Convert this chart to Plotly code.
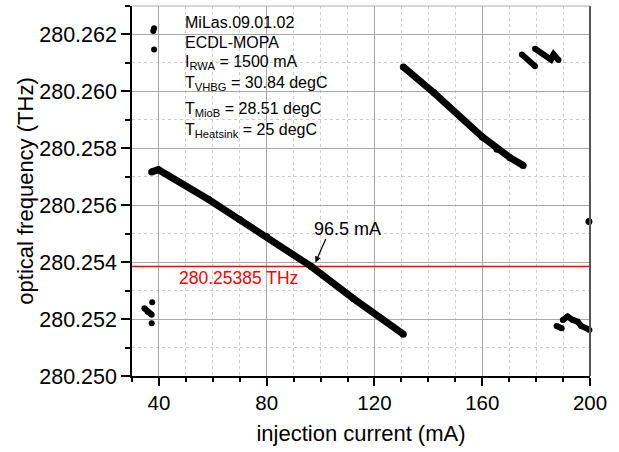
import plotly.graph_objects as go

# ---- data ----
seg1_x = [37.3, 39.8, 58.6, 70, 80, 96.5, 112.2, 130.7]
seg1_y = [280.25717, 280.25725, 280.25619, 280.25550, 280.25490, 280.25385, 280.25272, 280.25147]

seg2_x = [130.7, 142.1, 160.0, 165.5, 170.3, 175.2]
seg2_y = [280.26086, 280.25995, 280.25840, 280.25797, 280.25767, 280.25740]

tl_x = [37.9, 38.2]
tl_y = [280.26212, 280.26222]
tl2_x = [38.2]
tl2_y = [280.26147]

bl_x = [34.6, 35.9, 37.3]
bl_y = [280.25238, 280.25225, 280.25215]
bl2_x = [37.5, 37.3]
bl2_y = [280.25259, 280.25185]

tr1_x = [174.7, 179.6]
tr1_y = [280.26130, 280.26088]
tr2_x = [179.6, 185.5, 186.5, 188.3]
tr2_y = [280.26150, 280.26112, 280.26130, 280.26110]

br1_x = [187.6, 189.5]
br1_y = [280.25176, 280.25168]
br2_x = [189.9, 191.7, 193.6, 195.4, 196.7, 199.8]
br2_y = [280.25197, 280.25209, 280.25197, 280.25191, 280.25176, 280.25162]
br3_x = [199.6]
br3_y = [280.25543]

ref_freq = 280.25385
ref_current = 96.5
x_range = [30, 200]
y_range = [280.250, 280.263]

info_lines = [
    "MiLas.09.01.02",
    "ECDL-MOPA",
    "I<sub>RWA</sub> = 1500 mA",
    "T<sub>VHBG</sub> = 30.84 degC",
    "T<sub>MioB</sub> = 28.51 degC",
    "T<sub>Heatsink</sub> = 25 degC",
]

FONT = "Arial, 'Liberation Sans', sans-serif"

fig = go.Figure()

# red reference line (trace so it sits under data)
fig.add_trace(go.Scatter(x=x_range, y=[ref_freq, ref_freq], mode="lines",
                         line=dict(color="#ff0000", width=1.5), hoverinfo="skip",
                         showlegend=False, cliponaxis=True))

def add_streak(xs, ys, w=6, ms=6):
    fig.add_trace(go.Scatter(x=xs, y=ys, mode="lines+markers",
                             line=dict(color="black", width=w),
                             marker=dict(color="black", size=ms),
                             showlegend=False, cliponaxis=False))

def add_dots(xs, ys, ms=6):
    fig.add_trace(go.Scatter(x=xs, y=ys, mode="markers",
                             marker=dict(color="black", size=ms),
                             showlegend=False, cliponaxis=False))

add_streak(seg1_x, seg1_y, w=7, ms=7)
add_streak(seg2_x, seg2_y, w=7, ms=7)
add_streak(tl_x, tl_y, w=5, ms=6)
add_dots(tl2_x, tl2_y, ms=6)
add_streak(bl_x, bl_y, w=6, ms=6)
add_dots(bl2_x, bl2_y, ms=6)
add_streak(tr1_x, tr1_y, w=6, ms=6)
add_streak(tr2_x, tr2_y, w=6, ms=6)
add_streak(br1_x, br1_y, w=6, ms=6)
add_streak(br2_x, br2_y, w=6, ms=6)
add_dots(br3_x, br3_y, ms=7)

L, R, T, B = 132, 29, 6, 76
H = 452 - T - B

def py2paper(py):
    return (452 - B - py) / H

annotations = []
centers = [22.7, 42.5, 63, 84, 109.5, 130]
for txt, cy in zip(info_lines, centers):
    annotations.append(dict(text=txt, xref="paper", yref="paper",
                            x=(183 - L) / 458, y=py2paper(cy),
                            xanchor="left", yanchor="middle", showarrow=False,
                            font=dict(family=FONT, size=16, color="black")))

annotations.append(dict(text=f"{ref_freq:.5f} THz", xref="x", yref="y",
                        x=46.6, y=280.25345, xanchor="left", yanchor="middle",
                        showarrow=False, font=dict(family=FONT, size=17.5, color="#ff0000")))
annotations.append(dict(text=f"{ref_current} mA", xref="x", yref="y",
                        x=110.0, y=280.25517, xanchor="center", yanchor="middle",
                        showarrow=False, font=dict(family=FONT, size=18, color="black")))
annotations.append(dict(text="", xref="x", yref="y", x=98.09, y=280.25399,
                        showarrow=True, ax=11, ay=-25, axref="pixel", ayref="pixel",
                        arrowhead=2, arrowsize=1, arrowwidth=1.2, arrowcolor="black"))

fig.update_layout(
    width=619, height=452,
    margin=dict(l=L, r=R, t=T, b=B, autoexpand=False),
    paper_bgcolor="white", plot_bgcolor="white",
    font=dict(family=FONT, color="black"),
    annotations=annotations,
    shapes=[
        dict(type="line", xref="paper", yref="paper", x0=1, x1=1, y0=0, y1=1,
             line=dict(color="#555555", width=2)),
        dict(type="line", xref="paper", yref="paper", x0=0, x1=1, y0=1, y1=1,
             line=dict(color="#aaaaaa", width=1)),
    ],
)

fig.update_xaxes(
    range=x_range, tickmode="linear", tick0=0, dtick=40, automargin=False,
    showline=True, linecolor="black", linewidth=1.5,
    ticks="outside", ticklen=8, tickwidth=1.5, tickcolor="black",
    tickfont=dict(family=FONT, size=20.5),
    showgrid=True, gridcolor="#a8a8a8", gridwidth=1, zeroline=False,
    minor=dict(dtick=10, tick0=0, ticks="outside", ticklen=4, tickcolor="black",
               showgrid=True, gridcolor="#cccccc", griddash="dot", gridwidth=1),
    title=dict(text="injection current (mA)", font=dict(family=FONT, size=22), standoff=12),
)
fig.update_yaxes(
    range=y_range, tickmode="linear", tick0=280.250, dtick=0.002, tickformat=".3f",
    automargin=False,
    showline=True, linecolor="black", linewidth=1.5,
    ticks="outside", ticklen=9, tickwidth=1.5, tickcolor="black",
    tickfont=dict(family=FONT, size=21.5),
    showgrid=True, gridcolor="#a8a8a8", gridwidth=1, zeroline=False,
    minor=dict(dtick=0.001, tick0=280.250, ticks="outside", ticklen=5, tickcolor="black",
               showgrid=True, gridcolor="#cccccc", griddash="dot", gridwidth=1),
    title=dict(text="optical frequency (THz)", font=dict(family=FONT, size=22), standoff=0),
)

fig.write_html("out.html", config={"displayModeBar": False},
               post_script="document.body.style.margin='0px';document.body.style.padding='0px';")
